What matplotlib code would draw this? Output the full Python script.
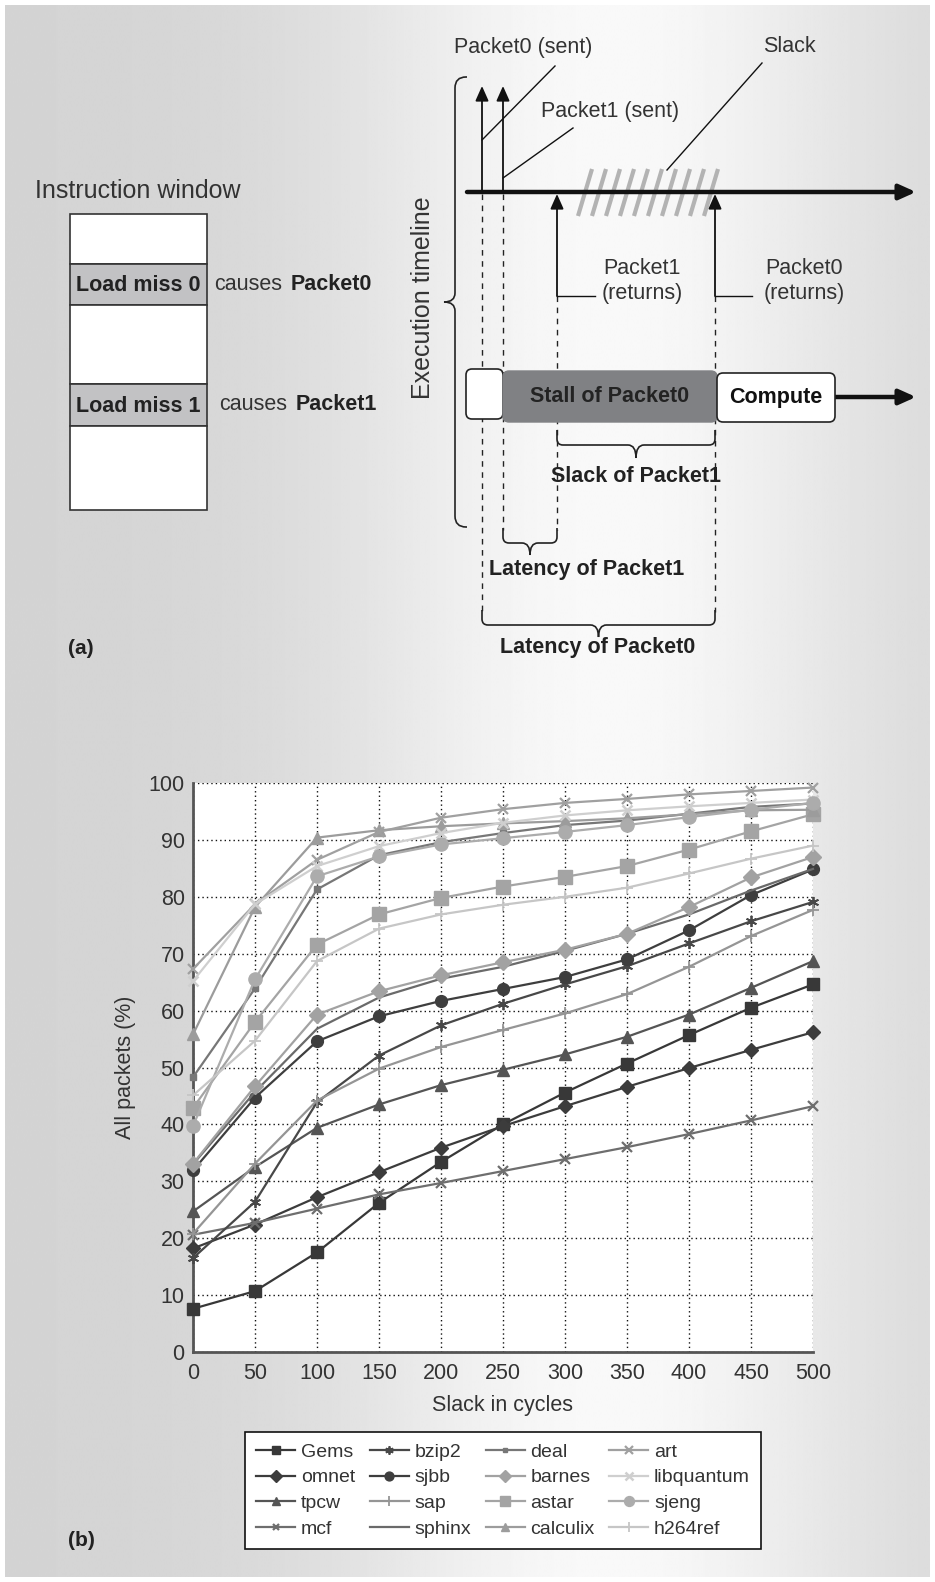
import numpy as np
import matplotlib
matplotlib.use('Agg')
import matplotlib.pyplot as plt
from matplotlib.path import Path
from matplotlib.patches import PathPatch, FancyBboxPatch, Rectangle

plt.rcParams['font.family'] = ['Liberation Sans', 'DejaVu Sans']

# ---------------- data (panel b) ----------------
slack_cycles = [0, 50, 100, 150, 200, 250, 300, 350, 400, 450, 500]
y_ticks = [0, 10, 20, 30, 40, 50, 60, 70, 80, 90, 100]

gems       = [7.6, 10.7, 17.5, 26.2, 33.4, 40.0, 45.6, 50.7, 55.7, 60.5, 64.6]
omnet      = [18.2, 22.4, 27.2, 31.6, 35.9, 39.7, 43.2, 46.6, 49.9, 53.1, 56.2]
tpcw       = [24.7, 32.5, 39.4, 43.5, 46.9, 49.6, 52.3, 55.4, 59.3, 64.0, 68.7]
mcf        = [20.6, 22.7, 25.2, 27.7, 29.7, 31.8, 33.9, 36.0, 38.3, 40.7, 43.2]
bzip2      = [16.5, 26.4, 43.9, 52.1, 57.4, 61.2, 64.6, 67.8, 71.8, 75.7, 79.1]
sjbb       = [31.9, 44.7, 54.6, 59.0, 61.7, 63.8, 65.9, 69.0, 74.1, 80.3, 84.8]
sap        = [20.8, 33.1, 44.2, 49.8, 53.6, 56.6, 59.5, 62.9, 67.7, 73.1, 77.7]
sphinx     = [33.0, 45.7, 56.8, 62.3, 65.6, 67.7, 70.5, 73.5, 76.9, 81.1, 84.9]
deal       = [48.3, 63.9, 81.3, 87.3, 89.6, 91.2, 92.6, 93.4, 94.6, 95.8, 96.4]
barnes     = [33.1, 46.7, 59.3, 63.4, 66.2, 68.5, 70.7, 73.5, 78.2, 83.4, 87.0]
astar      = [42.9, 58.0, 71.6, 76.9, 79.8, 81.8, 83.5, 85.4, 88.3, 91.5, 94.5]
calculix   = [55.8, 78.2, 90.4, 91.7, 92.4, 92.9, 93.3, 93.8, 94.5, 95.2, 95.3]
art        = [67.3, 78.7, 86.5, 91.4, 93.9, 95.4, 96.5, 97.2, 98.0, 98.6, 99.2]
libquantum = [65.2, 78.7, 85.4, 88.9, 91.2, 93.0, 94.3, 95.2, 95.9, 96.5, 97.1]
sjeng      = [39.7, 65.5, 83.6, 87.1, 89.2, 90.3, 91.4, 92.6, 94.0, 95.3, 96.5]
h264ref    = [45.1, 54.7, 68.7, 74.4, 76.9, 78.6, 80.0, 81.6, 84.1, 86.7, 89.0]

series_names = ['Gems', 'omnet', 'tpcw', 'mcf', 'bzip2', 'sjbb', 'sap', 'sphinx',
                'deal', 'barnes', 'astar', 'calculix', 'art', 'libquantum', 'sjeng', 'h264ref']
series_values = [gems, omnet, tpcw, mcf, bzip2, sjbb, sap, sphinx,
                 deal, barnes, astar, calculix, art, libquantum, sjeng, h264ref]

# styles: color, marker, markersize, markeredgewidth
styles = {
    'Gems':       ('#383838', 's', 8.5, 1.0),
    'omnet':      ('#3c3c3c', 'D', 7.5, 1.0),
    'tpcw':       ('#555555', '^', 8, 1.0),
    'mcf':        ('#6e6e6e', 'x', 6.5, 1.6),
    'bzip2':      ('#484848', (6, 2, 0), 8, 1.3),
    'sjbb':       ('#3e3e3e', 'o', 8.5, 1.0),
    'sap':        ('#959595', '+', 9, 1.3),
    'sphinx':     ('#6a6a6a', None, 0, 1.0),
    'deal':       ('#777777', 's', 4.5, 1.0),
    'barnes':     ('#a2a2a2', 'D', 8.5, 1.0),
    'astar':      ('#a4a4a4', 's', 9.5, 1.0),
    'calculix':   ('#9c9c9c', '^', 8.5, 1.0),
    'art':        ('#a0a0a0', 'x', 7, 1.6),
    'libquantum': ('#cfcfcf', 'x', 7, 1.8),
    'sjeng':      ('#acacac', 'o', 9.5, 1.0),
    'h264ref':    ('#c6c6c6', '+', 9, 1.3),
}

W, H = 935, 1582
fig = plt.figure(figsize=(W / 100, H / 100), dpi=100)
fig.patch.set_facecolor('white')

# ---------------- background + diagram (panel a) ----------------
axd = fig.add_axes([0, 0, 1, 1])
xs = np.linspace(0, W, 500)
shade = 0.83 + 0.145 * np.exp(-((xs - 610) / 270.0) ** 2)
axd.imshow(np.tile(shade, (4, 1)), cmap='gray', vmin=0, vmax=1,
           extent=(5, W - 5, H - 5, 5), aspect='auto', zorder=0,
           interpolation='bilinear')
axd.set_xlim(0, W)
axd.set_ylim(H, 0)
axd.axis('off')

TXT = '#333333'
FS = 15.5


def brace(ax, a1, a2, e, l, t, vertical=False, r=6, r2=8, lw=1.2):
    s = 1 if l > e else -1
    am = (a1 + a2) / 2.0
    pts = [(a1, e), (a1, l - s * r), (a1, l), (a1 + r, l), (am - r2, l), (am, l), (am, t),
           (am, l), (am + r2, l), (a2 - r, l), (a2, l), (a2, l - s * r), (a2, e)]
    codes = [Path.MOVETO, Path.LINETO, Path.CURVE3, Path.CURVE3, Path.LINETO,
             Path.CURVE3, Path.CURVE3, Path.CURVE3, Path.CURVE3, Path.LINETO,
             Path.CURVE3, Path.CURVE3, Path.LINETO]
    if vertical:
        pts = [(v, u) for (u, v) in pts]
    ax.add_patch(PathPatch(Path(pts, codes), fill=False, lw=lw, ec='#222222', zorder=3))


def arrow(ax, x0, y0, x1, y1, lw=1.3, hl=0.9, hw=0.4):
    ax.annotate('', xy=(x1, y1), xytext=(x0, y0),
                arrowprops=dict(arrowstyle='-|>,head_length=%g,head_width=%g' % (hl, hw),
                                color='#111111', lw=lw, shrinkA=0, shrinkB=0), zorder=4)


# Instruction window
axd.text(138, 191, 'Instruction window', ha='center', va='center', fontsize=18, color=TXT)
rows = [(214, 264, 'white', ''), (264, 305, '#c2c2c4', 'Load miss 0'),
        (305, 384, 'white', ''), (384, 426, '#c2c2c4', 'Load miss 1'),
        (426, 510, 'white', '')]
for (ya, yb, col, lab) in rows:
    axd.add_patch(Rectangle((70, ya), 137, yb - ya, fc=col, ec='#333333', lw=1.2, zorder=2))
    if lab:
        axd.text(138, (ya + yb) / 2 + 1, lab, ha='center', va='center', fontsize=FS,
                 fontweight='bold', color='#222222', zorder=3)
axd.text(214, 285, 'causes', ha='left', va='center', fontsize=FS, color=TXT)
axd.text(291, 285, 'Packet0', ha='left', va='center', fontsize=FS, fontweight='bold', color='#222222')
axd.text(219, 405, 'causes', ha='left', va='center', fontsize=FS, color=TXT)
axd.text(296, 405, 'Packet1', ha='left', va='center', fontsize=FS, fontweight='bold', color='#222222')

# Execution timeline label and brace
axd.text(423, 298, 'Execution timeline', ha='center', va='center', rotation=90,
         fontsize=18, color=TXT)
brace(axd, 77, 527, 467, 455, 444, vertical=True, r=11, r2=9)

# slack hatching
for i in range(10):
    xt = 592 + i * 14
    axd.plot([xt, xt - 14], [169, 216], color='#b3b3b3', lw=3, solid_capstyle='butt', zorder=2)

# top timeline
arrow(axd, 467, 192, 916, 192, lw=3.2, hl=1.0, hw=0.45)

# dashed guide lines
dash = dict(color='#222222', lw=1.0, ls=(0, (4, 4)), zorder=1)
axd.plot([482, 482], [194, 612], **dash)
axd.plot([503, 503], [194, 530], **dash)
axd.plot([557, 557], [296, 530], **dash)
axd.plot([715, 715], [296, 612], **dash)

# sent arrows
arrow(axd, 482, 192, 482, 86)
arrow(axd, 503, 192, 503, 86)
# return arrows
arrow(axd, 557, 296, 557, 194)
arrow(axd, 715, 296, 715, 194)

# leaders
lead = dict(color='#111111', lw=1.0, zorder=3)
axd.plot([555, 482], [66, 140], **lead)
axd.plot([573, 503], [128, 178], **lead)
axd.plot([762, 667], [63, 170], **lead)
axd.plot([557, 595], [296, 296], **lead)
axd.plot([715, 752], [296, 296], **lead)

axd.text(523, 47, 'Packet0 (sent)', ha='center', va='center', fontsize=FS, color=TXT)
axd.text(610, 112, 'Packet1 (sent)', ha='center', va='center', fontsize=FS, color=TXT)
axd.text(789, 47, 'Slack', ha='center', va='center', fontsize=FS, color=TXT)
axd.text(642, 268, 'Packet1', ha='center', va='center', fontsize=FS, color=TXT)
axd.text(642, 294, '(returns)', ha='center', va='center', fontsize=FS, color=TXT)
axd.text(804, 268, 'Packet0', ha='center', va='center', fontsize=FS, color=TXT)
axd.text(804, 294, '(returns)', ha='center', va='center', fontsize=FS, color=TXT)

# bottom execution boxes
axd.add_patch(FancyBboxPatch((466, 369), 37, 50, boxstyle='round,pad=0,rounding_size=6',
                             fc='white', ec='#222222', lw=1.2, zorder=5))
axd.add_patch(FancyBboxPatch((503, 371), 214, 51, boxstyle='round,pad=0,rounding_size=6',
                             fc='#808184', ec='#808184', lw=1.0, zorder=5))
axd.add_patch(FancyBboxPatch((717, 373), 118, 49, boxstyle='round,pad=0,rounding_size=6',
                             fc='white', ec='#222222', lw=1.2, zorder=5))
axd.text(610, 397, 'Stall of Packet0', ha='center', va='center', fontsize=FS,
         fontweight='bold', color='#232323', zorder=6)
axd.text(776, 397, 'Compute', ha='center', va='center', fontsize=FS,
         fontweight='bold', color='#111111', zorder=6)
arrow(axd, 835, 397, 916, 397, lw=3.2, hl=1.0, hw=0.45)

# braces under timeline
brace(axd, 557, 715, 430, 445, 458)
axd.text(636, 477, 'Slack of Packet1', ha='center', va='center', fontsize=FS,
         fontweight='bold', color='#222222')
brace(axd, 503, 557, 528, 543, 555)
axd.text(587, 570, 'Latency of Packet1', ha='center', va='center', fontsize=FS,
         fontweight='bold', color='#222222')
brace(axd, 482, 715, 610, 625, 637)
axd.text(598, 647, 'Latency of Packet0', ha='center', va='center', fontsize=FS,
         fontweight='bold', color='#222222')

axd.text(81, 648, '(a)', ha='center', va='center', fontsize=15, fontweight='bold', color='#222222')
axd.text(81, 1540, '(b)', ha='center', va='center', fontsize=15, fontweight='bold', color='#222222')

# ---------------- chart (panel b) ----------------
ax = fig.add_axes([193 / W, 1 - 1352 / H, 620 / W, 569 / H])
ax.set_facecolor('white')
handles = []
for name, vals in zip(series_names, series_values):
    col, mk, ms, mew = styles[name]
    kw = dict(color=col, lw=1.6, label=name, zorder=3, clip_on=False)
    if mk is not None:
        kw.update(marker=mk, markersize=ms, markeredgewidth=mew,
                  markerfacecolor=col, markeredgecolor=col)
    h, = ax.plot(slack_cycles, vals, **kw)
    handles.append(h)

ax.set_xlim(0, 500)
ax.set_ylim(0, 100)
ax.set_xticks(slack_cycles)
ax.set_yticks(y_ticks)
ax.grid(True, color='#111111', ls=(0, (1, 2.2)), lw=1.0, zorder=1)
ax.set_axisbelow(True)
for sp in ['top', 'right']:
    ax.spines[sp].set_visible(False)
for sp in ['left', 'bottom']:
    ax.spines[sp].set_color('#555555')
    ax.spines[sp].set_linewidth(2.0)
ax.tick_params(length=0, labelsize=15.5, labelcolor='#333333')
ax.tick_params(axis='y', pad=6)
ax.tick_params(axis='x', pad=8)
ax.set_xlabel('Slack in cycles', fontsize=15.5, color='#333333', labelpad=8)
ax.set_ylabel('All packets (%)', fontsize=15.5, color='#333333', labelpad=9)

leg = ax.legend(handles=handles, loc='center', ncol=4,
                bbox_to_anchor=((240 + 766) / 2 / W, 1 - (1431 + 1550) / 2 / H),
                bbox_transform=fig.transFigure, frameon=True, fancybox=False,
                edgecolor='#111111', facecolor='white', framealpha=1.0,
                fontsize=14, handlelength=2.0, handletextpad=0.3, columnspacing=0.75,
                labelspacing=0.42, borderpad=0.55, markerscale=0.75)
leg.get_frame().set_linewidth(1.2)
for t in leg.get_texts():
    t.set_color('#333333')

fig.savefig('out.png', dpi=100)
